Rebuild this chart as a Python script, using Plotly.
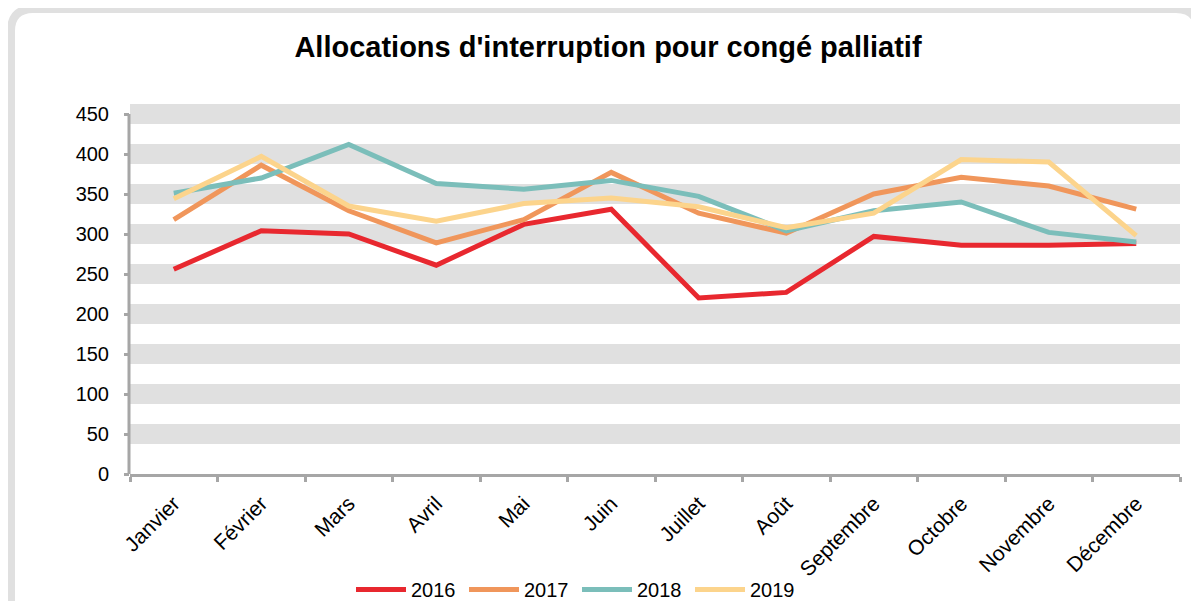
import plotly.graph_objects as go

months = ["Janvier", "Février", "Mars", "Avril", "Mai", "Juin", "Juillet",
          "Août", "Septembre", "Octobre", "Novembre", "Décembre"]
y2016 = [256, 304, 300, 261, 312, 331, 220, 227, 297, 286, 286, 288]
y2017 = [318, 386, 329, 289, 318, 377, 326, 301, 350, 371, 360, 331]
y2018 = [351, 370, 412, 363, 356, 367, 347, 304, 329, 340, 302, 290]
y2019 = [344, 397, 335, 316, 338, 345, 334, 308, 326, 393, 390, 298]
series = [("2016", y2016, "#E8282F"), ("2017", y2017, "#F0965B"),
          ("2018", y2018, "#7BBEBA"), ("2019", y2019, "#FCD48C")]
ytick_vals = [0, 50, 100, 150, 200, 250, 300, 350, 400, 450]

# page body has an 8px margin: work in window pixels and shift
OFF = 8
WIN_W, WIN_H = 1199, 601
W, H = WIN_W - OFF, WIN_H - OFF
PL, PR, PT, PB = 130, 1180, 104, 474   # plot area in window pixels
L, R, T, B = PL - OFF, W - (PR - OFF), PT - OFF, H - (PB - OFF)
LEG_TOP = 570                          # legend top, window pixels
pw, ph = PR - PL, PB - PT
YMAX = 462.5


def px(x):
    return (x - PL) / pw


def py(y):
    return (PB - y) / ph


fig = go.Figure()
for name, vals, col in series:
    fig.add_trace(go.Scatter(x=months, y=vals, name=name, mode="lines",
                             line=dict(color=col, width=5)))

shapes = []
for v in ytick_vals[1:]:
    shapes.append(dict(type="rect", xref="paper", yref="y", x0=0, x1=1,
                       y0=v - 12.5, y1=v + 12.5, fillcolor="#E0E0E0",
                       line=dict(width=0), layer="below"))
# y axis line (0..450)
shapes.append(dict(type="line", xref="paper", yref="y", x0=px(129), x1=px(129),
                   y0=0, y1=450, line=dict(color="#A6A6A6", width=3)))
# outer rounded frame
r = 22
xl, xr, yt, yb = 11, 1198, 9, 650
path = (f"M {px(xl)},{py(yb)} L {px(xl)},{py(yt + r)} "
        f"Q {px(xl)},{py(yt)} {px(xl + r)},{py(yt)} "
        f"L {px(xr - r)},{py(yt)} Q {px(xr)},{py(yt)} {px(xr)},{py(yt + r)} "
        f"L {px(xr)},{py(yb)}")
shapes.append(dict(type="path", xref="paper", yref="paper", path=path,
                   line=dict(color="#E0E0E0", width=8)))

fig.update_layout(
    width=W, height=H,
    margin=dict(l=L, r=R, t=T, b=B, pad=0, autoexpand=False),
    paper_bgcolor="white", plot_bgcolor="white",
    font=dict(family="Liberation Sans, Arial, sans-serif", size=20, color="#000000"),
    title=dict(text="<b>Allocations d'interruption pour congé palliatif</b>",
               x=(608 - OFF) / W, xref="container", xanchor="center",
               y=1 - (47 - OFF) / H, yref="container", yanchor="middle",
               font=dict(size=29, color="#000000")),
    xaxis=dict(range=[-0.5, 11.5], showgrid=False, zeroline=False, showline=True,
               linecolor="#A6A6A6", linewidth=3, ticks="outside", automargin=False,
               tickson="boundaries", ticklen=5, tickwidth=3, tickcolor="#A6A6A6",
               tickangle=-45, ticklabelstandoff=6, tickfont=dict(size=21)),
    yaxis=dict(range=[0, YMAX], tickvals=ytick_vals, showgrid=False, zeroline=False,
               showline=False, ticks="outside", ticklen=5, tickwidth=3,
               automargin=False, tickcolor="#A6A6A6", ticklabelstandoff=11,
               tickfont=dict(size=20)),
    legend=dict(orientation="h", xref="container", x=(577 - OFF) / W,
                xanchor="center", yref="container", y=1 - (LEG_TOP - OFF) / H,
                yanchor="top", font=dict(size=20), entrywidth=48, itemwidth=50,
                entrywidthmode="pixels", bgcolor="rgba(0,0,0,0)"),
    shapes=shapes,
    showlegend=True,
)

fig.write_html("out.html")
